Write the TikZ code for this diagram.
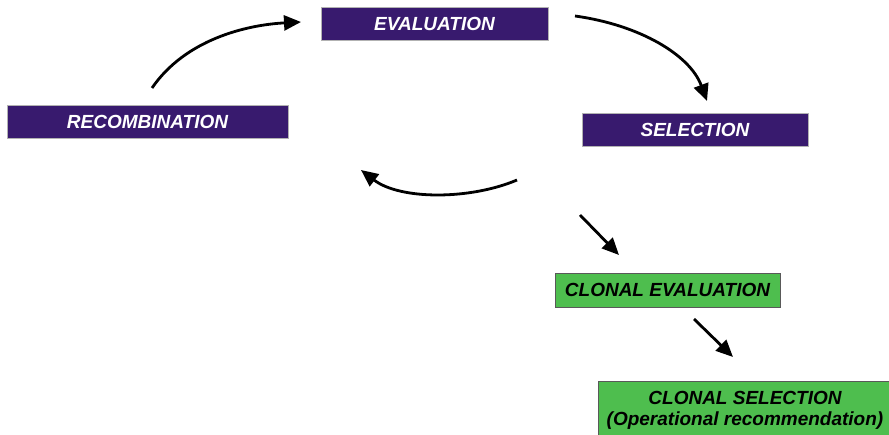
\documentclass[tikz,border=0pt]{standalone}
\usepackage{fontspec}
\setmainfont{Liberation Sans}
\usetikzlibrary{arrows.meta}
\definecolor{boxpurple}{RGB}{56,26,110}
\definecolor{boxgreen}{RGB}{78,190,78}
\tikzset{
  boxfont/.style={font=\fontsize{19}{21}\selectfont\bfseries\itshape},
  purplebox/.style={draw=gray!60, line width=0.8pt, fill=boxpurple, text=white, boxfont, inner sep=0pt, anchor=center},
  greenbox/.style={draw=gray!70!black, line width=0.8pt, fill=boxgreen, text=black, boxfont, inner sep=0pt, anchor=center, align=center},
  flow/.style={line width=2.8pt, -{Triangle[length=17pt,width=15pt]}, black},
}
\begin{document}
\begin{tikzpicture}[x=1pt,y=-1pt]
\useasboundingbox (0,0) rectangle (889,435);
\clip (0,0) rectangle (889,435);
\node[purplebox, minimum width=227pt, minimum height=33pt] (eval) at (434.5,23.5) {EVALUATION};
\node[purplebox, minimum width=281pt, minimum height=33pt] (recomb) at (147.5,121.5) {RECOMBINATION};
\node[purplebox, minimum width=226pt, minimum height=33pt] (sel) at (695,129.5) {SELECTION};
\node[greenbox, minimum width=225pt, minimum height=34pt] (ceval) at (667.5,290) {CLONAL EVALUATION};
\node[greenbox, minimum width=294pt, minimum height=58pt] (csel) at (745,410) {CLONAL SELECTION\\(Operational recommendation)};
\coordinate (a1s) at (152,88);
\coordinate (a1e) at (301,22);
\coordinate (a2s) at (575,16);
\coordinate (a2e) at (707,101);
\coordinate (a3s) at (517,180);
\coordinate (a3e) at (361,170);
\coordinate (a4s) at (580,215);
\coordinate (a4e) at (619,255);
\coordinate (a5s) at (694,319);
\coordinate (a5e) at (733,357);
\draw[flow] (a1s) .. controls (185,40) and (245,25) .. (a1e);
\draw[flow] (a2s) .. controls (640,25) and (690,55) .. (a2e);
\draw[flow] (a3s) .. controls (470,200) and (400,200) .. (a3e);
\draw[flow] (a4s) -- (a4e);
\draw[flow] (a5s) -- (a5e);
\end{tikzpicture}
\end{document}
